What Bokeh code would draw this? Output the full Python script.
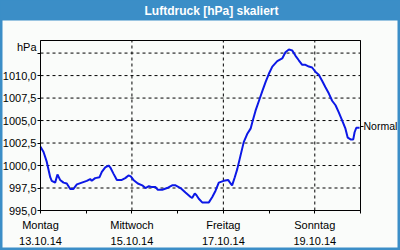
from bokeh.plotting import figure
from bokeh.models import BoxAnnotation, Label, FixedTicker, LinearAxis, Range1d
from bokeh.embed import file_html
from bokeh.resources import INLINE

# --- data (hours since Montag 13.10.14 00:00, pressure in hPa) ---
hours = [0, 1.6, 3.3, 5.1, 5.9, 7.7, 8.9, 10.3, 12.1, 13.8,
         15.6, 17.3, 19.1, 21.7, 24.3, 26.1, 26.9, 28.7, 31.0, 32.2,
         34.0, 35.7, 36.6, 38.3, 40.1, 42.7, 44.5, 46.2, 47.4, 48.8,
         51.1, 53.4, 55.1, 56.9, 58.6, 60.4, 61.6, 63.9, 66.5, 69.1,
         70.9, 73.5, 76.1, 78.8, 79.6, 81.0, 81.9, 83.1, 84.9, 88.4,
         90.2, 91.9, 93.6, 96.2, 98.5, 99.8, 100.6, 102.0, 103.3, 105.0,
         106.7, 108.5, 110.3, 111.2, 112.9, 114.7, 116.5, 118.2, 119.9, 121.7,
         124.3, 126.9, 128.6, 130.4, 132.1, 133.9, 135.6, 137.4, 139.1, 140.9,
         142.6, 144.4, 146.1, 147.9, 149.6, 151.4, 153.1, 154.9, 156.6, 158.4,
         160.1, 161.3, 162.8, 164.2, 164.9, 165.8, 167.5]
pressure = [1002.1, 1001.5, 1000.4, 998.7, 998.3, 998.1, 999.0, 998.4, 998.1, 998.0,
            997.4, 997.4, 997.9, 998.1, 998.3, 998.5, 998.3, 998.6, 998.7, 999.3,
            999.8, 1000.0, 999.8, 999.1, 998.4, 998.4, 998.6, 998.9, 998.8, 998.4,
            998.0, 997.8, 997.5, 997.7, 997.6, 997.6, 997.3, 997.3, 997.5, 997.8,
            997.8, 997.5, 997.0, 996.5, 996.4, 996.9, 996.7, 996.3, 995.9, 995.9,
            996.5, 997.2, 998.1, 998.3, 998.4, 998.0, 997.8, 998.7, 999.6, 1001.1,
            1002.6, 1003.5, 1004.1, 1004.8, 1006.1, 1007.2, 1008.3, 1009.3, 1010.2, 1011.0,
            1011.6, 1011.9, 1012.6, 1012.9, 1012.8, 1012.2, 1011.7, 1011.2, 1011.2, 1011.0,
            1010.9, 1010.4, 1010.1, 1009.4, 1008.7, 1008.0, 1007.2, 1006.7, 1005.9, 1005.0,
            1004.1, 1003.1, 1002.9, 1002.9, 1003.7, 1004.2, 1004.2]

y_ticks = [995.0, 997.5, 1000.0, 1002.5, 1005.0, 1007.5, 1010.0, 1012.5]
y_labels = ["995,0", "997,5", "1000,0", "1002,5", "1005,0", "1007,5", "1010,0", ""]
x_day_ticks = [0, 24, 48, 72, 96, 120, 144, 168]
x_label_ticks = [0, 48, 96, 144]
x_labels = ["Montag\n13.10.14", "Mittwoch\n15.10.14", "Freitag\n17.10.14", "Sonntag\n19.10.14"]
normal_value = 1004.35
normal_label = "Normal"
title_text = "Luftdruck [hPa] skaliert"
unit_text = "hPa"

BLUE = "#3b8ec7"
BG = "#fafcfa"
LINE = "#0c18e6"
FONT = "Liberation Sans"

X0, X1, Y0, Y1 = 0, 168, 995, 1013.9
W, H, ML, MR, MT, MB = 400, 250, 40, 40, 40, 40
sx = (X1 - X0) / (W - ML - MR)      # data units per pixel (x)
sy = (Y1 - Y0) / (H - MT - MB)      # data units per pixel (y)

def cx(px):  # canvas px -> data x
    return X0 + (px - ML) * sx

def cy(py):  # canvas px (from top) -> data y
    return Y1 + (MT - py) * sy

p = figure(width=W, height=H, output_backend="svg", toolbar_location=None,
           x_range=Range1d(cx(0), cx(W)), y_range=Range1d(cy(H), cy(0)),
           min_border=0, min_border_left=0, min_border_right=0,
           min_border_top=0, min_border_bottom=0,
           background_fill_color=BG, border_fill_color=BG)
p.outline_line_color = BLUE
p.outline_line_width = 4
p.xgrid.visible = False
p.ygrid.visible = False

# title bar
p.add_layout(BoxAnnotation(left=None, right=None, top=None, bottom=cy(20),
                           fill_color=BLUE, fill_alpha=1, line_color=None,
                           level="underlay"))

# dashed grid lines at tick positions
gy = y_ticks[1:]
p.segment(x0=[X0] * len(gy), x1=[X1] * len(gy), y0=gy, y1=gy,
          line_color="black", line_width=1, line_dash="3 3")
gx = x_label_ticks[1:]
p.segment(x0=gx, x1=gx, y0=[Y0] * len(gx), y1=[Y1] * len(gx),
          line_color="black", line_width=1, line_dash="3 3")

# plot frame
p.add_layout(BoxAnnotation(left=X0, right=X1, bottom=Y0, top=Y1,
                           fill_alpha=0, line_color="black", line_width=1, line_alpha=1))

p.line(hours, pressure, line_color=LINE, line_width=2)

# axes
def style(ax):
    ax.major_tick_out = 3
    ax.major_tick_in = 0
    ax.minor_tick_line_color = None
    ax.axis_line_color = "black"
    ax.major_tick_line_color = "black"
    ax.major_label_text_font = FONT
    ax.major_label_text_font_size = "11px"
    ax.major_label_text_color = "black"

xa = p.xaxis[0]
style(xa)
xa.fixed_location = Y0
xa.bounds = (X0, X1)
xa.ticker = FixedTicker(ticks=x_day_ticks)
xa.major_label_overrides = {t: "" for t in x_day_ticks}
xa.major_label_overrides.update({t: l for t, l in zip(x_label_ticks, x_labels)})
xa.major_label_standoff = 5
xa.major_label_text_line_height = 1.35

ya = p.yaxis[0]
style(ya)
ya.fixed_location = X0
ya.bounds = (Y0, Y1)
ya.ticker = FixedTicker(ticks=y_ticks)
ya.major_label_overrides = {t: l for t, l in zip(y_ticks, y_labels)}
ya.major_label_standoff = 1

ra = LinearAxis(ticker=FixedTicker(ticks=[normal_value]),
                major_label_overrides={normal_value: normal_label})
style(ra)
ra.fixed_location = X1
ra.bounds = (Y0, Y1)
ra.major_label_standoff = 0
ra.major_label_text_font_size = "10.5px"
p.add_layout(ra, "right")

# texts
p.add_layout(Label(x=cx(211), y=cy(10), text=title_text,
                   text_align="center", text_baseline="middle",
                   text_color="white", text_font=FONT, text_font_size="12px",
                   text_font_style="bold"))
p.add_layout(Label(x=X0, y=y_ticks[-1], x_offset=-4, y_offset=6.5, text=unit_text,
                   text_align="right", text_baseline="middle",
                   text_color="black", text_font=FONT, text_font_size="11px"))

open("out.html", "w").write(file_html(p, INLINE))
